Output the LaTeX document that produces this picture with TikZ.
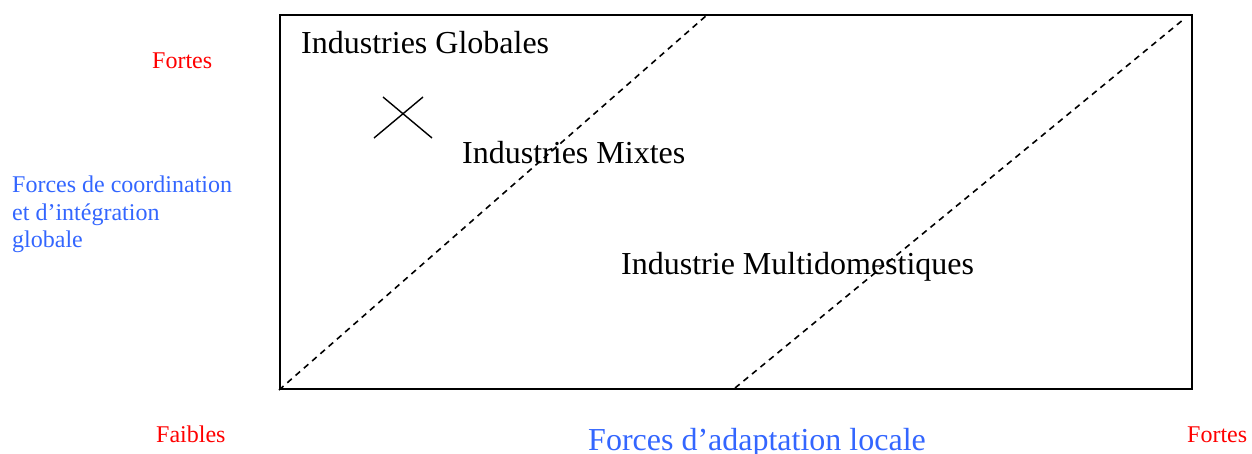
\documentclass[tikz,border=0pt]{standalone}
\usepackage{fontspec}
\setmainfont{Liberation Serif}
\usepackage{xcolor}
\usepackage{tikz}
\usetikzlibrary{positioning}
\definecolor{fxBlue}{HTML}{3366FF}
\definecolor{fxRed}{HTML}{FF0000}
\tikzset{
  zone label/.style={inner sep=0pt,anchor=base west,font=\fontsize{32}{38}\selectfont},
  scale label/.style={inner sep=0pt,anchor=base west,text=fxRed,font=\fontsize{24}{28}\selectfont},
  axis label/.style={inner sep=0pt,text=fxBlue,align=left},
  frontier/.style={dash pattern=on 6pt off 5pt,line width=1.6pt},
  frame/.style={draw,line width=2pt,inner sep=0pt,anchor=north west}
}

\begin{document}
\begin{tikzpicture}[x=1pt,y=-1pt]
\useasboundingbox (0,0) rectangle (1252,453);
% matrice integration / adaptation
\node[frame,minimum width=912pt,minimum height=374pt] (grid) at (279,14) {};
\coordinate (f1top) at (707,15);
\coordinate (f2foot) at (735,388);
\coordinate (f2top) at (1184,19);
\draw[frontier] (grid.south west) -- (f1top);
\draw[frontier] (f2foot) -- (f2top);
% position marquee
\coordinate (xa) at (374,138); \coordinate (xb) at (423,97);
\coordinate (xc) at (383,97);  \coordinate (xd) at (432,138);
\draw[line width=1.4pt] (xa) -- (xb);
\draw[line width=1.4pt] (xc) -- (xd);
% zones
\node[zone label] (glob) at (301,53) {Industries Globales};
\node[zone label] (mixt) at (462,163) {Industries Mixtes};
\node[zone label] (multi) at (621,274) {Industrie Multidomestiques};
% axes
\node[scale label] (vhigh) at (152,68) {Fortes};
\node[scale label] (hlow) at (156,442) {Faibles};
\node[scale label] (hhigh) at (1187,442) {Fortes};
\node[axis label,anchor=north west,font=\fontsize{24}{27.5}\selectfont] (vaxis) at (12,176) {Forces de coordination\\et d’intégration\\globale};
\node[axis label,anchor=base west,font=\fontsize{32}{38}\selectfont] (haxis) at (588,450) {Forces d’adaptation locale};
\end{tikzpicture}
\end{document}
